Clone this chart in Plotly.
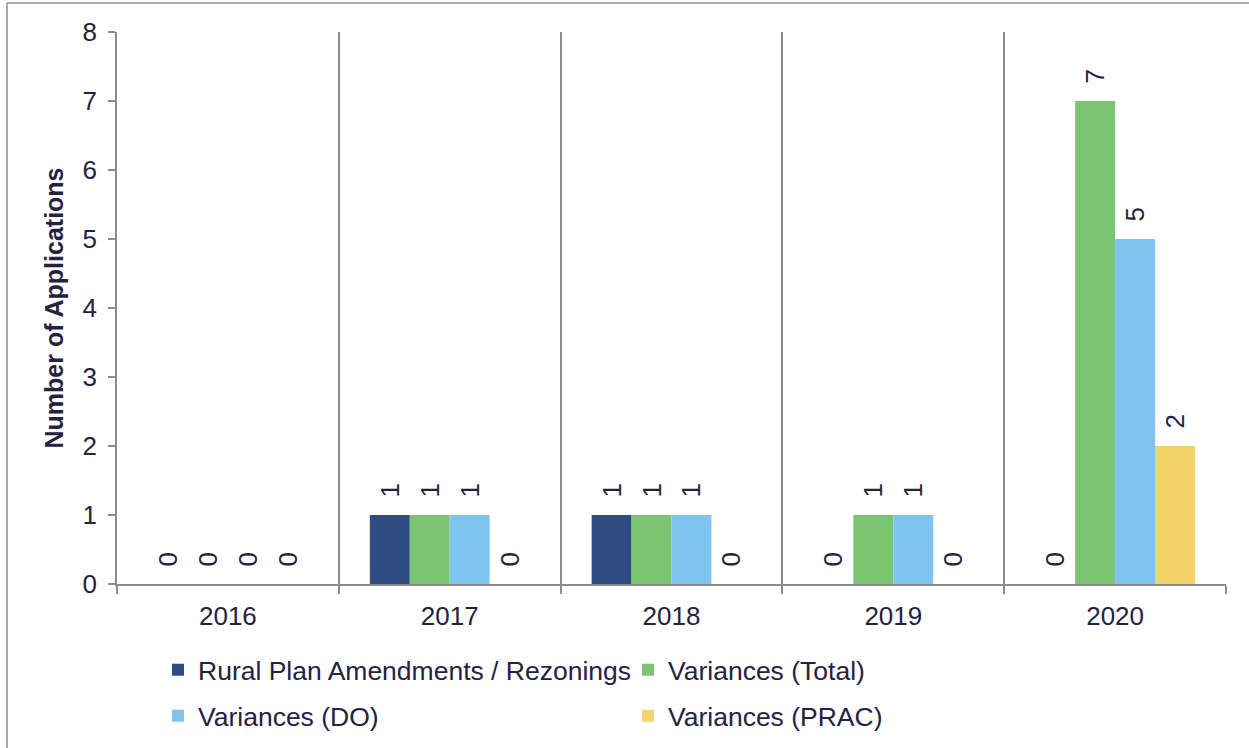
import plotly.graph_objects as go

years = ["2016", "2017", "2018", "2019", "2020"]
series_names = ["Rural Plan Amendments / Rezonings", "Variances (Total)",
                "Variances (DO)", "Variances (PRAC)"]
rural = [0, 1, 1, 0, 0]
var_total = [0, 1, 1, 1, 7]
var_do = [0, 1, 1, 1, 5]
var_prac = [0, 0, 0, 0, 2]
y_ticks = [0, 1, 2, 3, 4, 5, 6, 7, 8]

colors = ["#2D4B80", "#7BC472", "#7DC5F0", "#F3D46B"]
values = [rural, var_total, var_do, var_prac]
legend_ids = ["legend", "legend", "legend2", "legend2"]

FONT = "Liberation Sans, Arial, sans-serif"
TXT = "#24223F"
GRID = "#8C8C8C"

W, H = 1249, 748
ML, MR, MT, MB = 117, 23, 32, 164
PW, PH = W - ML - MR, H - MT - MB

fig = go.Figure()
for name, vals, col, lg in zip(series_names, values, colors, legend_ids):
    fig.add_trace(go.Bar(
        x=years, y=vals, name=name, marker=dict(color=col, line=dict(width=0)),
        text=vals, texttemplate="\u00a0\u00a0%{y}", textposition="outside",
        textangle=-90, cliponaxis=False,
        textfont=dict(family=FONT, size=26, color=TXT),
        legend=lg,
    ))

def px_x(p):
    return (p - ML) / PW

def px_y(p):
    return (H - MB - p) / PH

leg_common = dict(orientation="h", xanchor="left", yanchor="top",
                  entrywidth=425, entrywidthmode="pixels",
                  font=dict(family=FONT, size=26.5, color=TXT), itemwidth=30,
                  bgcolor="rgba(0,0,0,0)")

fig.update_layout(
    width=W, height=H,
    margin=dict(l=ML, r=MR, t=MT, b=MB, autoexpand=False),
    paper_bgcolor="white", plot_bgcolor="white",
    barmode="group", bargap=0.28, bargroupgap=0,
    font=dict(family=FONT, size=26, color=TXT),
    showlegend=True,
    legend=dict(x=px_x(158), y=px_y(646), **leg_common),
    legend2=dict(x=px_x(158), y=px_y(692), **leg_common),
    xaxis=dict(
        type="category", tickson="boundaries", ticks="outside", ticklen=8,
        tickcolor=GRID, tickwidth=1.5, showline=True, linecolor=GRID, linewidth=1.5,
        showgrid=True, gridcolor=GRID, gridwidth=1.5, ticklabelstandoff=8,
        tickfont=dict(family=FONT, size=26, color=TXT),
    ),
    yaxis=dict(
        range=[0, 8], tickvals=y_ticks, ticks="outside", ticklen=7,
        tickcolor=GRID, tickwidth=1.5, showline=True, linecolor=GRID, linewidth=1.5,
        showgrid=False, zeroline=False, ticklabelstandoff=6,
        tickfont=dict(family=FONT, size=26, color=TXT),
        title=dict(text="<b>Number of Applications</b>", standoff=12,
                   font=dict(family=FONT, size=25, color=TXT)),
    ),
    shapes=[
        dict(type="line", xref="paper", yref="paper",
             x0=px_x(7), x1=px_x(1260), y0=px_y(3), y1=px_y(3),
             line=dict(color=GRID, width=1.5)),
        dict(type="line", xref="paper", yref="paper",
             x0=px_x(7), x1=px_x(7), y0=px_y(3), y1=px_y(760),
             line=dict(color=GRID, width=1.5)),
    ],
)

fig.write_html("out.html", config={"displayModeBar": False},
               post_script="document.body.style.margin='0px';")
